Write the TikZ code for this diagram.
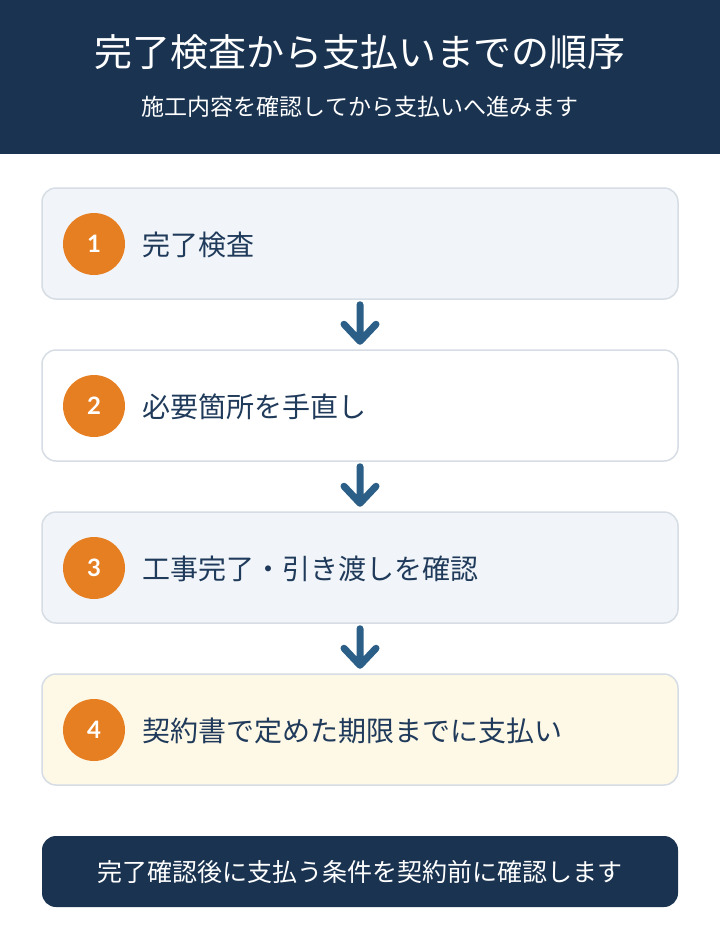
\documentclass[tikz,border=0pt]{standalone}
\usepackage{fontspec}
\setmainfont{Noto Sans CJK JP}
\newfontfamily\numfont{Lato}
\definecolor{navy}{HTML}{1A3350}
\definecolor{boxblue}{HTML}{F1F5F9}
\definecolor{boxcream}{HTML}{FEF8E6}
\definecolor{boxline}{HTML}{D6DDE4}
\definecolor{badge}{HTML}{E67E22}
\definecolor{steptext}{HTML}{1F3A5A}
\definecolor{arrowcol}{HTML}{2B5F87}
\tikzset{
  stepbox/.style={draw=boxline, line width=1.5pt, rounded corners=14pt, minimum width=636pt, minimum height=111pt, inner sep=0pt},
  badgecirc/.style={circle, fill=badge, minimum size=62pt, inner sep=0pt, text=white, font=\numfont\bfseries\fontsize{24}{28}\selectfont},
  steplabel/.style={anchor=west, text=steptext, inner sep=0pt, font=\fontsize{28}{33}\selectfont},
  flowarrow/.style={draw=arrowcol, line width=7pt, line cap=round, line join=round},
  footerbox/.style={fill=navy, rounded corners=14pt, minimum width=636pt, minimum height=71pt, inner sep=0pt, text=white, font=\fontsize{25}{30}\selectfont}
}
\begin{document}
\begin{tikzpicture}[x=1pt,y=-1pt]
\useasboundingbox (0,0) rectangle (720,940);
\fill[white] (0,0) rectangle (720,940);
\fill[navy] (0,0) rectangle (720,154);
\node[text=white, font=\fontsize{38}{45}\selectfont] (title) at (360,52) {完了検査から支払いまでの順序};
\node[text=white, font=\fontsize{23}{27}\selectfont] (subtitle) at (360,107) {施工内容を確認してから支払いへ進みます};

\node[stepbox, fill=boxblue] (s1) at (360,243.5) {};
\node[stepbox, fill=white] (s2) at (360,405.5) {};
\node[stepbox, fill=boxblue] (s3) at (360,567.5) {};
\node[stepbox, fill=boxcream] (s4) at (360,729.5) {};

\node[badgecirc] (c1) at (94,244) {1};
\node[badgecirc] (c2) at (94,406) {2};
\node[badgecirc] (c3) at (94,568) {3};
\node[badgecirc] (c4) at (94,730) {4};

\node[steplabel] (t1) at (142,245) {完了検査};
\node[steplabel] (t2) at (142,407) {必要箇所を手直し};
\node[steplabel] (t3) at (142,569) {工事完了・引き渡しを確認};
\node[steplabel] (t4) at (142,731) {契約書で定めた期限までに支払い};

\foreach \a/\b in {s1/s2, s2/s3, s3/s4}{
  \coordinate (\a start) at ([yshift=-5pt]\a.south);
  \coordinate (\a end) at ([yshift=8pt]\b.north);
  \draw[flowarrow] (\a start) -- (\a end) (\a end) ++(-16,-17) -- (\a end) -- ++(16,-17);
}

\node[footerbox] (note) at (360,871.5) {完了確認後に支払う条件を契約前に確認します};
\end{tikzpicture}
\end{document}
